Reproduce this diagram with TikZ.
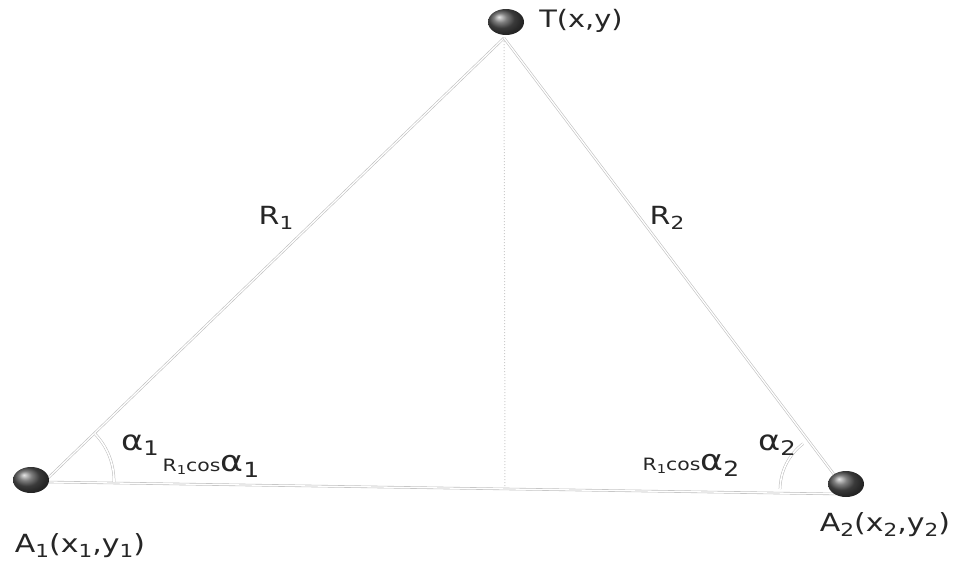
\documentclass[tikz,border=0pt]{standalone}
\usepackage{fontspec}
\usepackage{graphicx}
\setmainfont{DejaVu Sans}
\usetikzlibrary{calc,shapes.geometric}
\newcommand\widetxt[1]{\scalebox{1.2}[1]{#1}}
\newcommand\lsub[1]{\raisebox{-0.2em}{\scalebox{0.72}{#1}}}
\newcommand\fsz[1]{\fontsize{#1}{#1}\selectfont}
\tikzset{
  ballnode/.style={ellipse, minimum width=36pt, minimum height=26pt, inner sep=0pt,
    shading=ball, ball color=gray!65!black},
  edge/.style={draw=gray!50, line width=0.6pt, double=white, double distance=1.3pt},
  arcst/.style={draw=gray!55, line width=0.5pt, double=white, double distance=1.6pt},
  vline/.style={draw=gray!40, line width=1pt, dotted},
  lbl/.style={inner sep=0pt, text=black!85}
}
\begin{document}
\begin{tikzpicture}[x=1pt,y=-1pt]
\useasboundingbox (0,0) rectangle (958,563);
% key points
\coordinate (Ttop) at (504,38);
\coordinate (A1c) at (46,480);
\coordinate (A2c) at (836,477);
\coordinate (A1b) at (48,482);
\coordinate (A2b) at (840,494);
\coordinate (foot) at (505,490);
\coordinate (O1) at (46,481);
\coordinate (O2) at (838,490);
% lines
\draw[vline] (Ttop) -- (foot);
\draw[edge] (A1c) -- (Ttop);
\draw[edge] (Ttop) -- (A2c);
\draw[edge] (A1b) -- (A2b);
% angle arcs
\draw[arcst] ($(O1)+(-0.9:68pt)$) arc[start angle=-0.9, end angle=44, radius=68pt];
\draw[arcst] ($(O2)+(127:58pt)$) arc[start angle=127, end angle=179, radius=58pt];
% balls
\node[ballnode] (T) at (506,22) {};
\node[ballnode] (A1) at (31,480) {};
\node[ballnode] (A2) at (846,484) {};
% labels
\node[lbl] (lT) at (581,21) {\fsz{24}\widetxt{T(x,y)}};
\node[lbl] (lA1) at (80,546) {\fsz{25}\widetxt{A\lsub{1}(x\lsub{1},y\lsub{1})}};
\node[lbl] (lA2) at (885,525) {\fsz{25}\widetxt{A\lsub{2}(x\lsub{2},y\lsub{2})}};
\node[lbl] (lR1) at (276,218) {\fsz{25}\widetxt{R\lsub{1}}};
\node[lbl] (lR2) at (667,218) {\fsz{25}\widetxt{R\lsub{2}}};
\node[lbl] (la1) at (140,445) {\fsz{28}\widetxt{α\lsub{1}}};
\node[lbl] (la2) at (777,445) {\fsz{28}\widetxt{α\lsub{2}}};
\node[lbl] (lc1) at (211,466) {\widetxt{\fsz{17}R\lsub{1}cos\fsz{29}α\lsub{1}}};
\node[lbl] (lc2) at (691,465) {\widetxt{\fsz{17}R\lsub{1}cos\fsz{29}α\lsub{2}}};
\end{tikzpicture}
\end{document}
